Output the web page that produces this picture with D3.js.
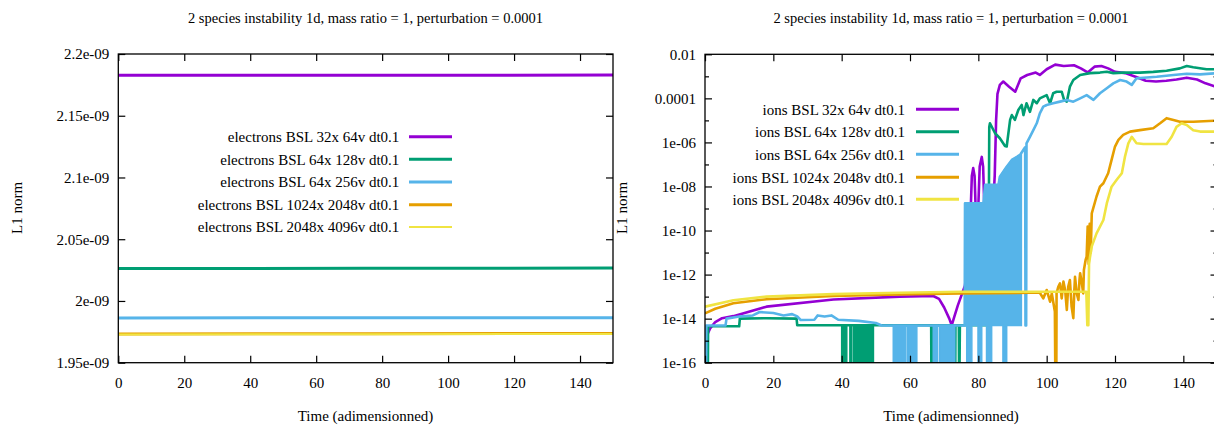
<!DOCTYPE html>
<html>
<head>
<meta charset="utf-8">
<script src="https://cdn.jsdelivr.net/npm/d3@7"></script>
<style>
  html, body { margin: 0; padding: 0; background: #fff; }
  svg { display: block; }
  text { font-family: "Liberation Serif", "DejaVu Serif", serif; fill: #000; }
</style>
</head>
<body>
<svg id="chart" width="1214" height="428"></svg>
<script>
// ---------------- DATA ----------------
const titleText = "2 species instability 1d, mass ratio = 1, perturbation = 0.0001";
const xLabelText = "Time (adimensionned)";
const yLabelText = "L1 norm";

const xTicks = [0, 20, 40, 60, 80, 100, 120, 140];
const xDomain = [0, 150];

// Left panel (electrons), linear y axis
const leftYDomain = [1.95e-9, 2.2e-9];
const leftYTicks = [1.95e-9, 2.0e-9, 2.05e-9, 2.1e-9, 2.15e-9, 2.2e-9];
const leftYTickLabels = ["1.95e-09", "2e-09", "2.05e-09", "2.1e-09", "2.15e-09", "2.2e-09"];

const electronNames = [
  "electrons BSL 32x 64v dt0.1",
  "electrons BSL 64x 128v dt0.1",
  "electrons BSL 64x 256v dt0.1",
  "electrons BSL 1024x 2048v dt0.1",
  "electrons BSL 2048x 4096v dt0.1"
];
const elec32x64 = [[0, 2.1827e-9], [75, 2.1828e-9], [150, 2.1829e-9]];
const elec64x128 = [[0, 2.0262e-9], [75, 2.0264e-9], [150, 2.0266e-9]];
const elec64x256 = [[0, 1.9863e-9], [75, 1.9864e-9], [150, 1.9865e-9]];
const elec1024x2048 = [[0, 1.9733e-9], [75, 1.9735e-9], [150, 1.9737e-9]];
const elec2048x4096 = [[0, 1.9729e-9], [75, 1.9731e-9], [150, 1.9733e-9]];

// Right panel (ions), log y axis
const rightYDomain = [1e-16, 1e-2];
const rightYMajor = [1e-2, 1e-4, 1e-6, 1e-8, 1e-10, 1e-12, 1e-14, 1e-16];
const rightYMajorLabels = ["0.01", "0.0001", "1e-06", "1e-08", "1e-10", "1e-12", "1e-14", "1e-16"];
const rightYMinor = [1e-3, 1e-5, 1e-7, 1e-9, 1e-11, 1e-13, 1e-15];

const ionNames = [
  "ions BSL 32x 64v dt0.1",
  "ions BSL 64x 128v dt0.1",
  "ions BSL 64x 256v dt0.1",
  "ions BSL 1024x 2048v dt0.1",
  "ions BSL 2048x 4096v dt0.1"
];

const ion32x64 = [
  [0, 1.1e-15], [1.5, 3.6e-15], [3, 7e-15], [5, 1.05e-14], [8.3, 1.3e-14], [18, 3.5e-14],
  [37.6, 7.4e-14], [57, 1e-13], [66.8, 1.07e-13], [68.5, 7.9e-14], [70, 3.2e-14], [71.5, 1e-14],
  [72.2, 5e-15], [73, 1.26e-14], [74, 4e-14], [76.1, 3.2e-13], [77.2, 1e-11], [77.8, 1.2e-9],
  [78.1, 3e-8], [78.5, 6.8e-8], [78.9, 3e-8], [79.2, 1.2e-9], [79.6, 1e-10], [80, 1.26e-9],
  [80.4, 8e-8], [81, 2.2e-7], [81.4, 8e-8], [81.75, 1.26e-9], [82.5, 1e-10], [84.3, 1e-9],
  [84.8, 3.2e-8], [85.2, 1e-5], [85.6, 1.6e-4], [86.3, 4.1e-4], [87.3, 5.8e-4], [89, 3.4e-4],
  [90.8, 2e-4], [92.4, 8.1e-4], [94.3, 1.15e-3], [96.8, 1.48e-3], [98, 1.15e-3], [100, 2.1e-3],
  [102.5, 3.4e-3], [105, 2.95e-3], [108, 3.2e-3], [110, 2.3e-3], [112, 1.5e-3], [114, 2.75e-3],
  [116, 2.95e-3], [118, 2.3e-3], [120, 1.6e-3], [123, 1.4e-3], [126, 9.5e-4], [129, 6.3e-4],
  [132, 5.8e-4], [135, 6.3e-4], [138, 7.2e-4], [141, 8.7e-4], [144, 7.2e-4], [146.5, 4.8e-4],
  [150, 3.2e-4]
];

const ion64x128 = [
  [0, 1e-18], [0.8, 1e-18], [0.9, 4.5e-15], [10, 4.5e-15], [10.2, 1e-14], [18, 1.05e-14],
  [26.8, 1e-14], [27, 5e-15], [39.5, 5e-15], [50, 5e-15], [66.2, 5e-15], [66.3, 1e-18],
  [66.4, 5e-15], [73.1, 5e-15], [73.2, 1e-18], [73.3, 5e-15], [74.3, 5e-15], [74.4, 1e-18],
  [74.6, 5e-15], [82.9, 5e-15], [83.2, 5e-6], [83.4, 7.4e-6], [84.9, 2.6e-6], [86.3, 1.55e-6],
  [87.8, 6.9e-7], [88.3, 6.5e-7], [89.3, 1.05e-5], [89.8, 1.74e-5], [90.7, 1.05e-5],
  [91.7, 2.95e-5], [92.7, 5e-5], [93.2, 1.74e-5], [94.1, 6e-5], [95.1, 2.45e-5], [96.1, 8.5e-5],
  [97.1, 6e-5], [98, 1e-4], [100, 1.4e-4], [101, 6e-5], [101.9, 1.7e-4], [102.9, 2e-4],
  [104.4, 2e-4], [105.1, 8.5e-5], [105.9, 7.1e-5], [106.8, 3.4e-4], [107.8, 6.8e-4],
  [109.8, 1.15e-3], [112.7, 1.4e-3], [115.6, 1.48e-3], [117.6, 1.6e-3], [119.5, 1.4e-3],
  [122.4, 1.48e-3], [127.3, 1.48e-3], [131.2, 1.6e-3], [135.1, 1.8e-3], [139, 2.3e-3],
  [141, 2.95e-3], [142.9, 2.6e-3], [146.8, 2.1e-3], [150, 2.1e-3]
];
// dense drop-outs of 64x128v: [tStart, tEnd, upper, lower]
const ion64x128Dropouts = [
  [40, 41.5, 5e-15, 1e-18], [42.4, 42.9, 5e-15, 1e-18], [43.4, 49.3, 5e-15, 1e-18]
];

const ion64x256 = [
  [0, 1e-18], [0.3, 1e-18], [0.4, 4.9e-15], [6, 4.9e-15], [6.3, 1e-14], [10, 1.26e-14],
  [14, 1.4e-14], [16, 2e-14], [20, 1.8e-14], [23, 1.4e-14], [25.5, 1.6e-14], [27, 1.26e-14],
  [28, 8.7e-15], [32, 8.9e-15], [33, 1.4e-14], [35, 1.26e-14], [37, 1.4e-14], [39, 8.9e-15],
  [45, 7.9e-15], [50, 6.3e-15], [51.7, 4.9e-15], [76, 4.9e-15], [76.1, 1.7e-9], [81.5, 1.7e-9],
  [82, 1.2e-8], [85.9, 1.2e-8], [86.3, 2.75e-8], [88.3, 7.9e-8], [89.8, 1.6e-7], [92.2, 2.7e-7],
  [93.2, 4.6e-7], [93.7, 6e-7], [93.8, 4.9e-15], [94.0, 4.9e-15], [94.1, 9e-7], [95.1, 1.8e-6],
  [96.1, 3.6e-6], [97.1, 7.4e-6], [98, 2.1e-5], [99, 4.2e-5], [100, 5e-5], [101.9, 6e-5],
  [103.9, 7.1e-5], [105.9, 8.5e-5], [107.8, 7.1e-5], [109.8, 1e-4], [111.7, 1.4e-4],
  [113.7, 8.5e-5], [115.6, 1.7e-4], [117.6, 2.9e-4], [119.5, 4.8e-4], [121.5, 6.8e-4],
  [123.4, 5.8e-4], [124.9, 4.1e-4], [126.3, 8.1e-4], [129.3, 8.9e-4], [132.2, 9.5e-4],
  [137.1, 1.15e-3], [141, 1.3e-3], [144.9, 1.23e-3], [150, 1.4e-3]
];
// oscillating envelope of 64x256v: [t, upper, lower]
const ion64x256Envelope = [
  [76.1, 1.7e-9, 4.9e-15], [81.5, 1.7e-9, 4.9e-15], [82, 1.2e-8, 4.9e-15], [85.9, 1.2e-8, 4.9e-15],
  [86.3, 2.75e-8, 4.9e-15], [88.3, 7.9e-8, 4.9e-15], [89.8, 1.6e-7, 4.9e-15], [92.2, 2.7e-7, 4.9e-15],
  [92.6, 3e-7, 4.9e-15]
];
const ion64x256Dropouts = [
  [55.1, 58.8, 4.9e-15, 1e-18], [59.3, 62, 4.9e-15, 1e-18], [66.8, 68, 4.9e-15, 1e-18],
  [68.6, 73.1, 4.9e-15, 1e-18], [76.6, 78.1, 4.9e-15, 1e-18], [79.9, 81, 4.9e-15, 1e-18],
  [82.4, 83.9, 4.9e-15, 1e-18], [87.2, 88.3, 4.9e-15, 1e-18]
];

const ion1024x2048 = [
  [0, 1.74e-14], [3, 2.8e-14], [8.3, 5e-14], [18, 7.6e-14], [37.6, 1.07e-13], [57, 1.26e-13],
  [75, 1.4e-13], [95, 1.5e-13], [98, 1.5e-13], [99, 8.3e-14], [100, 2e-13], [101, 5.9e-14],
  [101.5, 1.4e-13], [102.4, 2.1e-14], [102.6, 1e-18], [102.8, 1e-18], [102.9, 1.4e-13],
  [103.4, 2.8e-13], [103.9, 4e-13], [104.4, 8.3e-14], [104.9, 4.8e-13], [105.4, 2e-13],
  [105.9, 2.5e-14], [106.3, 2.8e-13], [106.8, 5.6e-13], [107.3, 3.5e-14], [107.8, 1.05e-14],
  [108.1, 2e-13], [108.3, 7.9e-13], [108.8, 1.4e-13], [109.3, 7.1e-14], [109.6, 5.6e-13],
  [109.8, 1.15e-12], [110.3, 4e-13], [110.7, 1.4e-13], [110.9, 1.6e-12], [111.4, 4.6e-12],
  [111.7, 6.5e-12], [112.0, 1.5e-10], [112.3, 3e-12], [112.6, 2e-10], [112.9, 1e-11],
  [113.2, 6e-10], [114.6, 3.5e-9], [115.6, 9.8e-9], [116.6, 1.4e-8], [118, 4e-8], [119, 1.6e-7],
  [120, 6.5e-7], [121, 1.3e-6], [122.4, 2.2e-6], [124.4, 3.1e-6], [127.3, 3.6e-6],
  [131.2, 4.4e-6], [133.2, 7.4e-6], [135.1, 1.26e-5], [137.1, 1.05e-5], [139, 8.7e-6],
  [142.9, 8.7e-6], [150, 9.8e-6]
];

const ion2048x4096 = [
  [0, 3.5e-14], [8.3, 6.8e-14], [18, 1e-13], [37.6, 1.3e-13], [57, 1.5e-13], [75, 1.66e-13],
  [100, 1.66e-13], [111.6, 1.66e-13], [111.9, 5e-15], [112.2, 5e-15], [112.4, 3e-12],
  [112.7, 6.5e-12], [113.2, 1.9e-11], [114.6, 7.4e-11], [116.6, 3e-10], [117.6, 1.7e-9],
  [119, 9.8e-9], [120.5, 2e-8], [122, 4e-8], [122.9, 2.2e-7], [123.9, 9.1e-7], [124.9, 1.8e-6],
  [126.3, 9.1e-7], [128.3, 8.5e-7], [135.1, 8.5e-7], [136.6, 1.8e-6], [138, 5.1e-6],
  [139.5, 7.4e-6], [141, 6.2e-6], [142.9, 3.6e-6], [144.9, 3.1e-6], [150, 3.1e-6]
];

const seriesColors = ["#9400d3", "#009e73", "#56b4e9", "#e69f00", "#f0e442"];

// ---------------- LAYOUT ----------------
const FONT = 15;
const TITLE_FONT = 14.5;
const svg = d3.select("#chart");

const L = { x0: 118.3, x1: 613, y0: 54, y1: 362.7, cx: 365.5 };
const R = { x0: 705, x1: 1217.5, y0: 54.3, y1: 362.7, cx: 951 };

const xL = d3.scaleLinear().domain(xDomain).range([L.x0, L.x1]);
const yL = d3.scaleLinear().domain(leftYDomain).range([L.y1, L.y0]);
const xR = d3.scaleLinear().domain(xDomain).range([R.x0, R.x1]);
const yR = d3.scaleLog().domain(rightYDomain).range([R.y1, R.y0]);

const defs = svg.append("defs");
function clip(id, b) {
  defs.append("clipPath").attr("id", id).append("rect")
    .attr("x", b.x0).attr("y", b.y0).attr("width", b.x1 - b.x0).attr("height", b.y1 - b.y0);
}
clip("clipL", L); clip("clipR", R);

function styleAxis(g) {
  g.select(".domain").remove();
  g.attr("font-family", null);
  g.selectAll("line").attr("stroke", "#000").attr("stroke-width", 1.2);
  g.selectAll("text").style("font-family", '"Liberation Serif", "DejaVu Serif", serif')
    .style("font-size", FONT + "px").attr("fill", "#000");
}

function drawFrame(b, x, y, yTicks, yLabels, minor) {
  svg.append("g").attr("transform", `translate(0,${b.y1})`)
    .call(d3.axisBottom(x).tickValues(xTicks).tickFormat(d3.format("d")).tickSize(-7).tickPadding(15))
    .call(styleAxis);
  svg.append("g").attr("transform", `translate(0,${b.y0})`)
    .call(d3.axisTop(x).tickValues(xTicks).tickFormat("").tickSize(-7))
    .call(styleAxis);
  svg.append("g").attr("transform", `translate(${b.x0},0)`)
    .call(d3.axisLeft(y).tickValues(yTicks).tickFormat((d, i) => yLabels[i]).tickSize(-7).tickPadding(9))
    .call(styleAxis);
  svg.append("g").attr("transform", `translate(${b.x1},0)`)
    .call(d3.axisRight(y).tickValues(yTicks).tickFormat("").tickSize(-7))
    .call(styleAxis);
  if (minor) {
    svg.append("g").attr("transform", `translate(${b.x0},0)`)
      .call(d3.axisLeft(y).tickValues(minor).tickFormat("").tickSize(-4))
      .call(styleAxis);
    svg.append("g").attr("transform", `translate(${b.x1},0)`)
      .call(d3.axisRight(y).tickValues(minor).tickFormat("").tickSize(-4))
      .call(styleAxis);
  }
}

function drawBorder(b) {
  svg.append("rect").attr("x", b.x0).attr("y", b.y0)
    .attr("width", b.x1 - b.x0).attr("height", b.y1 - b.y0)
    .attr("fill", "none").attr("stroke", "#000").attr("stroke-width", 1.3);
}

function drawTexts(b, yLabelX) {
  svg.append("text").attr("x", b.cx).attr("y", 23).attr("text-anchor", "middle")
    .style("font-size", TITLE_FONT + "px").text(titleText);
  svg.append("text").attr("x", b.cx).attr("y", 421).attr("text-anchor", "middle")
    .style("font-size", FONT + "px").text(xLabelText);
  svg.append("text").attr("transform", `translate(${yLabelX},208) rotate(-90)`)
    .attr("text-anchor", "middle").style("font-size", FONT + "px").text(yLabelText);
}

function drawLegend(names, textRight, lineX0, lineX1, rowY, widths) {
  const g = svg.append("g");
  names.forEach((n, i) => {
    const yy = rowY[i];
    g.append("text").attr("x", textRight).attr("y", yy).attr("dy", "0.35em")
      .attr("text-anchor", "end").style("font-size", FONT + "px").text(n);
    g.append("line").attr("x1", lineX0).attr("x2", lineX1).attr("y1", yy).attr("y2", yy)
      .attr("stroke", seriesColors[i]).attr("stroke-width", widths[i]);
  });
}

// ---------------- LEFT PANEL ----------------
drawTexts(L, 21.5);
const gL = svg.append("g").attr("clip-path", "url(#clipL)");
const lineL = d3.line().x(d => xL(d[0])).y(d => yL(d[1]));
const elecSeries = [elec32x64, elec64x128, elec64x256, elec1024x2048, elec2048x4096];
const elecWidths = [3, 3, 3, 3, 2];
elecSeries.forEach((s, i) => {
  gL.append("path").datum(s).attr("d", lineL).attr("fill", "none")
    .attr("stroke", seriesColors[i]).attr("stroke-width", elecWidths[i]);
});
drawFrame(L, xL, yL, leftYTicks, leftYTickLabels, null);
drawBorder(L);
drawLegend(electronNames, 399.3, 409, 452, [136.7, 159.3, 182, 204.7, 227], [3, 3, 3, 3, 2]);

// ---------------- RIGHT PANEL ----------------
drawTexts(R, 627);
const gR = svg.append("g").attr("clip-path", "url(#clipR)");
const lineR = d3.line().x(d => xR(d[0])).y(d => yR(d[1]));
const areaEnv = d3.area().x(d => xR(d[0])).y0(d => yR(d[2])).y1(d => yR(d[1]));
function drawDropouts(list, color) {
  list.forEach(b => {
    const pts = [[b[0], b[2], b[3]], [b[1], b[2], b[3]]];
    gR.append("path").datum(pts).attr("d", areaEnv)
      .attr("fill", color).attr("stroke", color).attr("stroke-width", 1.5);
  });
}
const RW = 2.6;
function drawLine(data, color) {
  gR.append("path").datum(data).attr("d", lineR).attr("fill", "none")
    .attr("stroke", color).attr("stroke-width", RW).attr("stroke-linejoin", "round");
}
drawLine(ion32x64, seriesColors[0]);
drawLine(ion64x128, seriesColors[1]);
drawDropouts(ion64x128Dropouts, seriesColors[1]);
drawDropouts(ion64x256Dropouts, seriesColors[2]);
gR.append("path").datum(ion64x256Envelope).attr("d", areaEnv)
  .attr("fill", seriesColors[2]).attr("stroke", seriesColors[2]).attr("stroke-width", 1.5);
drawLine(ion64x256, seriesColors[2]);
drawLine(ion1024x2048, seriesColors[3]);
drawLine(ion2048x4096, seriesColors[4]);

drawFrame(R, xR, yR, rightYMajor, rightYMajorLabels, rightYMinor);
drawBorder(R);
drawLegend(ionNames, 905, 916, 959, [109.3, 131.7, 154.3, 177.3, 199.3], [3, 3, 3, 3, 3]);
</script>
</body>
</html>
